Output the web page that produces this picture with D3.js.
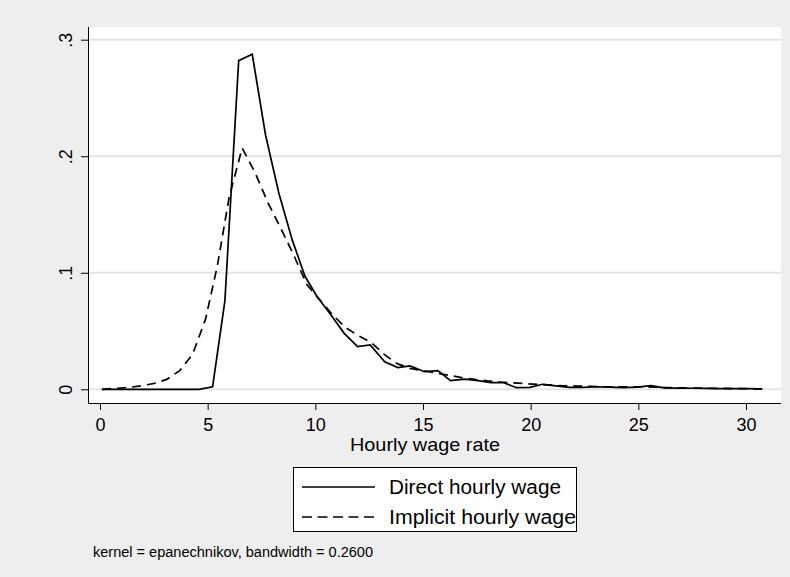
<!DOCTYPE html>
<html>
<head>
<meta charset="utf-8">
<script src="https://cdn.jsdelivr.net/npm/d3@7"></script>
<style>
  html, body { margin: 0; padding: 0; background: #eeeeee; }
  svg { display: block; }
  text { font-family: "Liberation Sans", Arial, sans-serif; fill: #000; }
</style>
</head>
<body>
<svg id="chart" width="790" height="577"></svg>
<script>
// Kernel density estimates of hourly wages (two measures)
const directWage = [0.08, 0.72, 1.36, 2.0, 2.64, 3.28, 3.92, 4.6, 5.23, 5.8, 6.44, 7.07, 7.69, 8.31, 8.93, 9.52,
  10.1, 10.72, 11.34, 11.96, 12.55, 13.22, 13.83, 14.4, 15.07, 15.69, 16.28, 16.93, 17.55, 18.17, 18.75, 19.34,
  19.96, 20.55, 21.17, 21.8, 22.43, 23.06, 23.69, 24.32, 24.95, 25.58, 26.21, 26.84, 27.47, 28.1, 28.73, 29.36,
  29.99, 30.75];
const directDensity = [0, 0, 0, 0, 0, 0, 0, 0, 0.0022, 0.0758, 0.282, 0.2875, 0.218, 0.168, 0.128, 0.097,
  0.079, 0.064, 0.048, 0.0366, 0.038, 0.0237, 0.0186, 0.020, 0.0151, 0.016, 0.0074, 0.0088, 0.0074, 0.0057, 0.0057, 0.0014,
  0.0017, 0.0043, 0.003, 0.0017, 0.0017, 0.0022, 0.0018, 0.0015, 0.0018, 0.0032, 0.0012, 0.001, 0.0009, 0.0008, 0.0006, 0.0006,
  0.0005, 0.0003];

const implicitWage = [0.1, 0.7, 1.3, 1.9, 2.5, 3.1, 3.7, 4.3, 4.9, 5.45, 6.0, 6.6, 7.2, 7.8, 8.4, 9.0, 9.6,
  10.2, 10.8, 11.4, 12.0, 12.6, 13.2, 13.8, 14.4, 15.0, 15.6, 16.2, 16.8, 17.4, 18.0, 18.6, 19.2, 19.8,
  20.4, 21.0, 21.6, 22.2, 22.8, 23.4, 24.0, 24.6, 25.2, 25.8, 26.4, 27.0, 27.6, 28.2, 28.8, 29.4, 30.0, 30.8];
const implicitDensity = [0.0, 0.0008, 0.0015, 0.003, 0.005, 0.0085, 0.016, 0.03, 0.060, 0.106, 0.165, 0.207, 0.186,
  0.160, 0.138, 0.115, 0.090, 0.077, 0.064, 0.053, 0.046, 0.040, 0.030, 0.022, 0.018, 0.016, 0.014, 0.012, 0.010,
  0.0085, 0.0072, 0.0062, 0.0055, 0.0048, 0.0042, 0.0035, 0.003, 0.0028, 0.0025, 0.0022, 0.002, 0.002, 0.0022,
  0.0018, 0.0014, 0.0012, 0.001, 0.0009, 0.0008, 0.0006, 0.0005, 0.0003];

const xTicks = [0, 5, 10, 15, 20, 25, 30];
const yTicks = [0, 0.1, 0.2, 0.3];
const yTickLabels = ["0", ".1", ".2", ".3"];

const seriesNames = ["Direct hourly wage", "Implicit hourly wage"];
const xTitle = "Hourly wage rate";
const noteText = "kernel = epanechnikov, bandwidth = 0.2600";

const svg = d3.select("#chart");

// plot region
const region = { left: 88, right: 781, top: 27, bottom: 403 };
const x = d3.scaleLinear().domain([0, 30]).range([100, 746]);
const y = d3.scaleLinear().domain([0, 0.3]).range([389.3, 39.7]);

svg.append("rect")
  .attr("x", region.left).attr("y", region.top)
  .attr("width", region.right - region.left).attr("height", region.bottom - region.top)
  .attr("fill", "#ffffff");

// horizontal grid
svg.append("g").selectAll("line").data(yTicks).join("line")
  .attr("x1", region.left + 1).attr("x2", region.right)
  .attr("y1", d => y(d)).attr("y2", d => y(d))
  .attr("stroke", "#e4e4e4").attr("stroke-width", 2);

// y axis
const yAxis = d3.axisLeft(y).tickValues(yTicks).tickSize(7).tickPadding(10)
  .tickFormat((d, i) => yTickLabels[i]);
const gy = svg.append("g").attr("transform", `translate(${region.left},0)`).call(yAxis);
gy.select(".domain").attr("d", `M0.5,${region.top}V${region.bottom}`).attr("stroke", "#000");
gy.selectAll(".tick line").attr("stroke", "#000").attr("x1", 0.5).attr("x2", -7);
gy.selectAll(".tick text")
  .attr("font-size", 18).attr("font-family", "Liberation Sans, Arial, sans-serif")
  .attr("text-anchor", "middle").attr("x", null).attr("dy", null)
  .attr("transform", "translate(-16,0) rotate(-90)");

// x axis
const xAxis = d3.axisBottom(x).tickValues(xTicks).tickSize(7).tickPadding(8);
const gx = svg.append("g").attr("transform", `translate(0,${region.bottom})`).call(xAxis);
gx.select(".domain").attr("d", `M${region.left},0.5H${region.right}`).attr("stroke", "#000");
gx.selectAll(".tick line").attr("stroke", "#000");
gx.selectAll(".tick text").attr("font-size", 18).attr("font-family", "Liberation Sans, Arial, sans-serif");

svg.append("text").attr("x", 425).attr("y", 451).attr("text-anchor", "middle")
  .attr("font-size", 19).attr("textLength", 150).attr("lengthAdjust", "spacingAndGlyphs")
  .text(xTitle);

// density curves
const line = d3.line().x(d => x(d[0])).y(d => y(d[1]));
const directPts = directWage.map((w, i) => [w, directDensity[i]]);
const implicitPts = implicitWage.map((w, i) => [w, implicitDensity[i]]);

svg.append("path").datum(implicitPts).attr("d", line)
  .attr("fill", "none").attr("stroke", "#000").attr("stroke-width", 1.7)
  .attr("stroke-dasharray", "9,6");
svg.append("path").datum(directPts).attr("d", line)
  .attr("fill", "none").attr("stroke", "#000").attr("stroke-width", 1.7)
  .attr("stroke-linejoin", "miter");

// legend
const lg = svg.append("g");
lg.append("rect").attr("x", 293.5).attr("y", 467.5).attr("width", 283).attr("height", 64)
  .attr("fill", "#ffffff").attr("stroke", "#000").attr("stroke-width", 1);
const dashes = [null, "10,5.5"];
const legendWidths = [172, 187];
seriesNames.forEach((name, i) => {
  const cy = 487 + i * 30;
  lg.append("line").attr("x1", 302).attr("x2", 375).attr("y1", cy).attr("y2", cy)
    .attr("stroke", "#000").attr("stroke-width", 1.7)
    .attr("stroke-dasharray", dashes[i]);
  lg.append("text").attr("x", 389).attr("y", cy + 7)
    .attr("font-size", 20).attr("textLength", legendWidths[i]).attr("lengthAdjust", "spacingAndGlyphs")
    .text(name);
});

// note
svg.append("text").attr("x", 93).attr("y", 557).attr("font-size", 14)
  .attr("textLength", 280).attr("lengthAdjust", "spacingAndGlyphs").text(noteText);
</script>
</body>
</html>
